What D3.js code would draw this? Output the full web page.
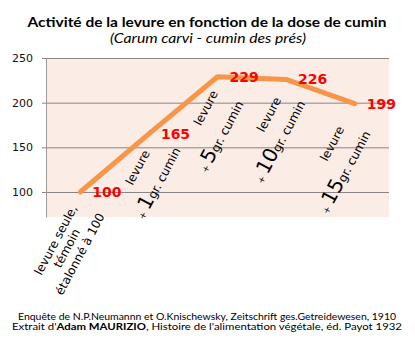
<!DOCTYPE html>
<html>
<head>
<meta charset="utf-8">
<script src="https://cdn.jsdelivr.net/npm/d3@7"></script>
<style>
body { margin: 0; background: #fff; }
</style>
</head>
<body>
<div id="chart"></div>
<script>
// data
var doses = [0, 1, 5, 10, 15];
var activity = [100, 165, 229, 226, 199];
var yTicks = [100, 150, 200, 250];
var controlLabel = ["levure seule,", "témoin", "étalonné à 100"];

// where each hand-placed label line sits, relative to its point,
// in the rotated frame: [along the text, baseline offset]
var labelLayout = [
	[[-54, 5], [-56, 18.6], [-55, 33]],
	[[-35, 10], [-39, 36]],
	[[-33, 8.5], [-51, 36]],
	[[-39, 5.5], [-58, 28.5]],
	[[-46, 3], [-65, 28.5]]
];

var width = 415;
var height = 362;
var plotLeft = 46, plotRight = 389, plotTop = 58, plotBottom = 217;
var casual = "'Comic Sans MS', Lato, 'DejaVu Sans', sans-serif";
var plain = "'DejaVu Sans', Verdana, sans-serif";

var svg = d3.select("#chart")
	.append("svg")
	.attr("width", width)
	.attr("height", height);

var x = d3.scaleBand().domain(doses).range([plotLeft, plotRight]);
var y = d3.scaleLinear().domain([72, 250]).range([plotBottom, plotTop]);
function cx(d) { return x(d) + x.bandwidth() / 2; }

// plot background
svg.append("rect")
	.attr("x", plotLeft)
	.attr("y", plotTop)
	.attr("width", plotRight - plotLeft)
	.attr("height", plotBottom - plotTop)
	.attr("fill", "#fcece6");

// grid lines
var grid = svg.append("g")
	.attr("transform", "translate(" + plotLeft + ",0)")
	.call(d3.axisLeft(y).tickValues(yTicks).tickSize(-(plotRight - plotLeft)).tickFormat(""));
grid.select(".domain").remove();
grid.selectAll(".tick line").attr("stroke", "#868686");

// y axis
var yAxis = svg.append("g")
	.attr("transform", "translate(" + plotLeft + ",0)")
	.call(d3.axisLeft(y).tickValues(yTicks).tickSize(4).tickPadding(9).tickSizeOuter(0));
yAxis.select(".domain").attr("stroke", "#9a9a9a");
yAxis.selectAll(".tick line").attr("stroke", "#868686");
yAxis.selectAll("text")
	.attr("font-family", plain)
	.attr("font-size", 11)
	.attr("fill", "#111");

// category labels, drawn inside the plot below the line
var labels = svg.append("g").attr("class", "labels");
doses.forEach(function(d, i) {
	var pos = labelLayout[i];
	var g = labels.append("g")
		.attr("transform", "translate(" + cx(d) + "," + y(activity[i]) + ") rotate(-62)");
	if (d === 0) {
		for (var k = 0; k < controlLabel.length; k++) {
			g.append("text")
				.attr("x", pos[k][0])
				.attr("y", pos[k][1])
				.attr("text-anchor", "middle")
				.attr("font-family", plain)
				.attr("font-size", 12)
				.text(controlLabel[k]);
		}
		return;
	}
	g.append("text")
		.attr("x", pos[0][0])
		.attr("y", pos[0][1])
		.attr("text-anchor", "middle")
		.attr("font-family", plain)
		.attr("font-size", 12)
		.text("levure");
	var t = g.append("text")
		.attr("x", pos[1][0])
		.attr("y", pos[1][1])
		.attr("text-anchor", "middle")
		.attr("font-family", plain)
		.attr("font-size", 12);
	t.append("tspan").attr("font-size", 9).text("+ ");
	t.append("tspan").attr("font-size", 20).text(d);
	t.append("tspan").text("gr. cumin");
});

// the line
var line = d3.line()
	.x(function(d, i) { return cx(doses[i]); })
	.y(function(d) { return y(d); });

svg.append("path")
	.datum(activity)
	.attr("d", line)
	.attr("fill", "none")
	.attr("stroke", "#f79646")
	.attr("stroke-width", 5)
	.attr("stroke-linecap", "round")
	.attr("stroke-linejoin", "round");

// value labels
svg.append("g")
	.selectAll("text")
	.data(activity)
	.enter()
	.append("text")
	.attr("x", function(d, i) { return cx(doses[i]) + 12; })
	.attr("y", function(d) { return y(d) + 5; })
	.attr("font-family", plain)
	.attr("font-weight", "bold")
	.attr("font-size", 14)
	.attr("fill", "#ff0000")
	.text(function(d) { return d; });

// titles
svg.append("text")
	.attr("x", 207)
	.attr("y", 27)
	.attr("text-anchor", "middle")
	.attr("font-family", casual)
	.attr("font-weight", "bold")
	.attr("font-size", 14)
	.attr("textLength", 359)
	.attr("lengthAdjust", "spacingAndGlyphs")
	.text("Activité de la levure en fonction de la dose de cumin");

svg.append("text")
	.attr("x", 208)
	.attr("y", 43)
	.attr("text-anchor", "middle")
	.attr("font-family", casual)
	.attr("font-style", "italic")
	.attr("font-size", 13)
	.attr("textLength", 196)
	.attr("lengthAdjust", "spacingAndGlyphs")
	.text("(Carum carvi - cumin des prés)");

// sources
svg.append("text")
	.attr("x", 207)
	.attr("y", 320)
	.attr("text-anchor", "middle")
	.attr("font-family", casual)
	.attr("font-size", 10)
	.attr("textLength", 378)
	.attr("lengthAdjust", "spacingAndGlyphs")
	.text("Enquête de N.P.Neumannn et O.Knischewsky, Zeitschrift ges.Getreidewesen, 1910");

var src = svg.append("text")
	.attr("x", 207)
	.attr("y", 330)
	.attr("text-anchor", "middle")
	.attr("font-family", casual)
	.attr("font-size", 10)
	.attr("textLength", 390)
	.attr("lengthAdjust", "spacingAndGlyphs");
src.append("tspan").text("Extrait d'");
src.append("tspan").attr("font-weight", "bold").text("Adam MAURIZIO");
src.append("tspan").text(", Histoire de l'alimentation végétale, éd. Payot 1932");
</script>
</body>
</html>
